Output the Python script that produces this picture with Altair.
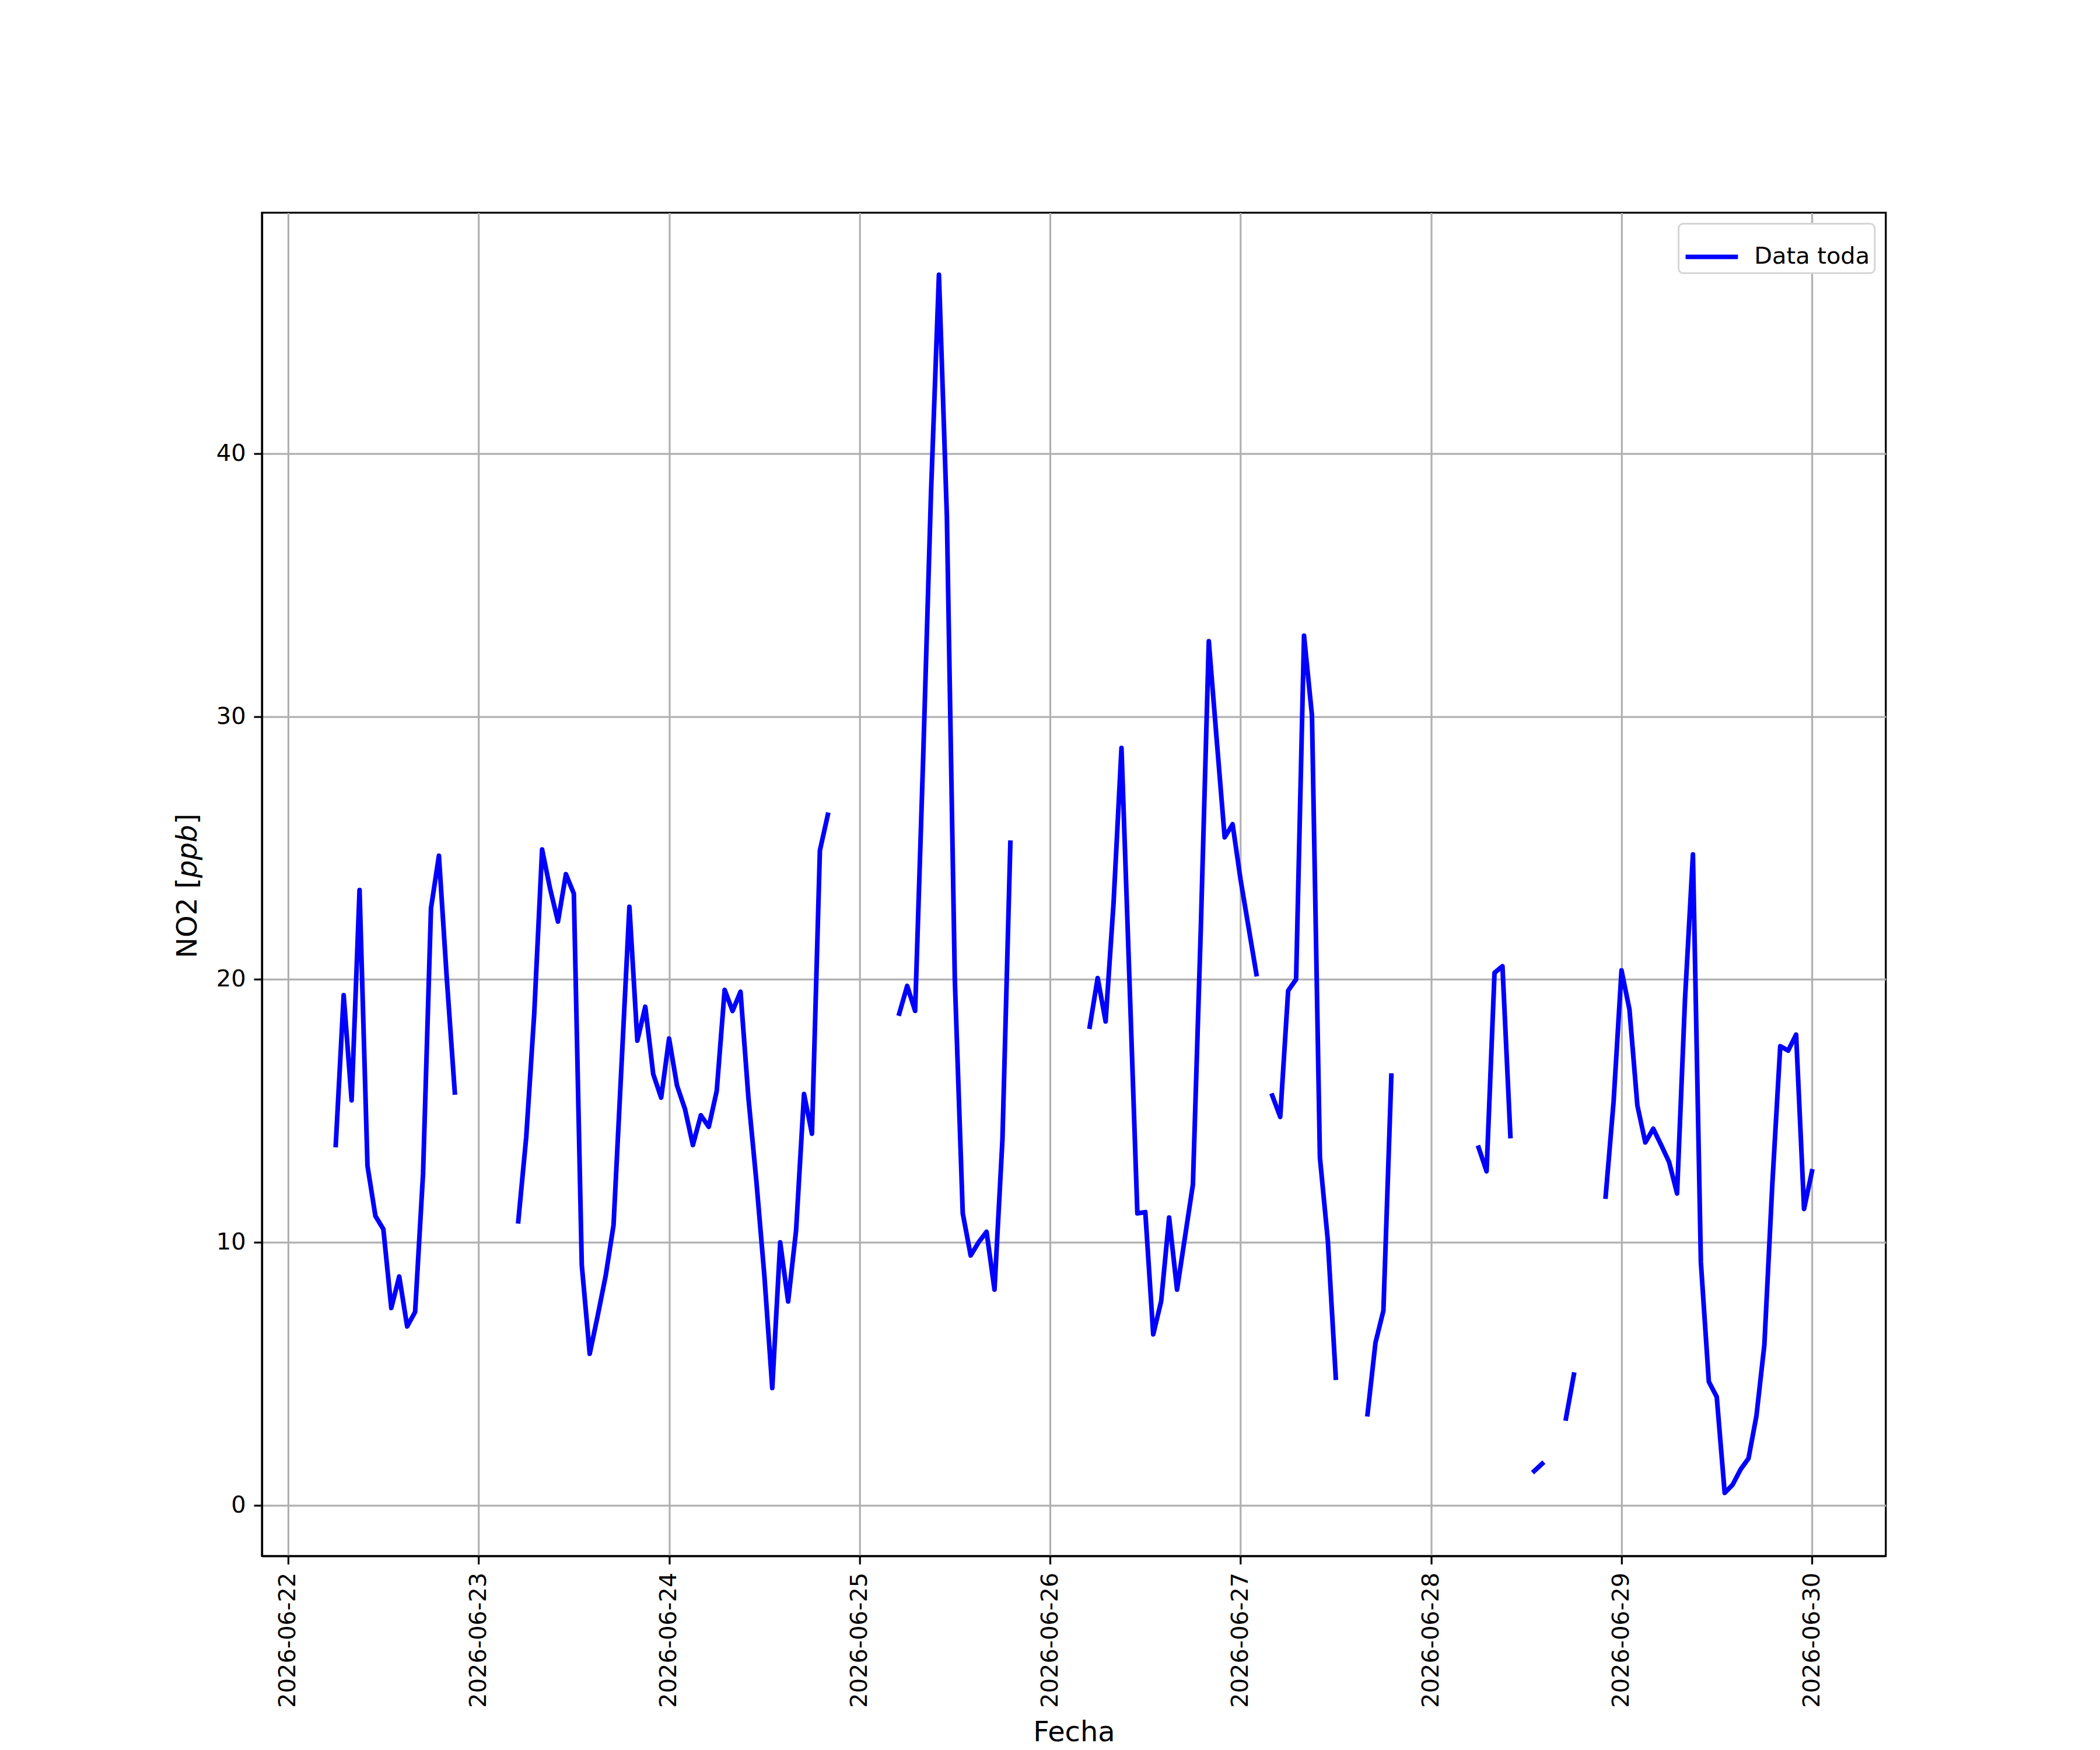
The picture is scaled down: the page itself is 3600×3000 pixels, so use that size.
import altair as alt
import pandas as pd

# Hourly NO2 readings [ppb]; None marks a missing hour
start_time = "2026-06-22 06:00"
d22 = [13.7, 19.4, 15.4, 23.4, 12.9, 11.0, 10.5, 7.5, 8.7, 6.8, 7.35, 12.6,
       22.7, 24.7, 20.0, 15.7, None, None]  # 06:00 - 23:00
d23 = [None, None, None, None, None, 10.8, 14.0, 18.65, 24.94, 23.46, 22.2, 24.0,
       23.26, 9.13, 5.76, 7.2, 8.71, 10.65, 16.7, 22.76, 17.67, 18.96, 16.4, 15.5]
d24 = [17.75, 15.96, 15.07, 13.7, 14.83, 14.39, 15.75, 19.6, 18.8, 19.53, 15.48, 12.32,
       8.75, 4.46, 10.0, 7.75, 10.45, 15.64, 14.13, 24.9, 26.26, None, None, None]
d25 = [None, None, None, None, None, 18.7, 19.75, 18.8, 28.3, 38.5, 46.8, 37.6,
       20.0, 11.1, 9.5, 10.0, 10.4, 8.2, 13.9, 25.2, None, None, None, None]
d26 = [None, None, None, None, None, 18.2, 20.05, 18.4, 22.9, 28.8, 20.0, 11.1,
       11.15, 6.5, 7.76, 10.94, 8.2, 10.2, 12.2, 22.0, 32.86, 29.1, 25.4, 25.9]
d27 = [23.8, 22.0, 20.2, None, 15.58, 14.77, 19.57, 20.0, 33.07, 30.04, 13.23, 10.06,
       4.85, None, None, None, 3.46, 6.18, 7.4, 16.34, None, None, None, None]
d28 = [None, None, None, None, None, None, 13.6, 12.7, 20.25, 20.5, 14.04, None,
       None, 1.3, 1.58, None, None, 3.3, 4.97, None, None, None, 11.74, 15.34]
d29 = [20.34, 18.86, 15.2, 13.8, 14.32, 13.7, 13.05, 11.86, 19.24, 24.75, 9.24, 4.7,
       4.12, 0.47, 0.78, 1.36, 1.78, 3.4, 6.1, 12.2, 17.46, 17.29, 17.9, 11.27]
d30 = [12.7]  # 00:00

series_name = "Data toda"
tick_days = [22, 23, 24, 25, 26, 27, 28, 29, 30]

values = d22 + d23 + d24 + d25 + d26 + d27 + d28 + d29 + d30
times = pd.date_range(start_time, periods=len(values), freq="h")

rows = []
seg = 0
prev_valid = False
for t, v in zip(times, values):
    if v is None:
        prev_valid = False
        continue
    if not prev_valid:
        seg += 1
    prev_valid = True
    rows.append({"time": t, "no2": v, "seg": seg, "serie": series_name})
df = pd.DataFrame(rows)

x_domain = [alt.DateTime(year=2026, month=6, date=21, hours=20, minutes=42),
            alt.DateTime(year=2026, month=6, date=30, hours=9, minutes=18)]
x_ticks = [alt.DateTime(year=2026, month=6, date=d) for d in tick_days]

line = alt.Chart(df).mark_line(strokeWidth=8, strokeCap="square", strokeJoin="round").encode(
    x=alt.X("time:T",
            scale=alt.Scale(domain=x_domain),
            axis=alt.Axis(values=x_ticks, format="%Y-%m-%d", labelAngle=270,
                          title="Fecha", labelOverlap=False, labelFlush=False,
                          labelLimit=0, titlePadding=80)),
    y=alt.Y("no2:Q",
            scale=alt.Scale(domain=[-1.93, 49.16], nice=False, zero=False),
            axis=alt.Axis(values=[0, 10, 20, 30, 40], title=None)),
    color=alt.Color("serie:N",
                    scale=alt.Scale(domain=[series_name], range=["#0000ff"]),
                    legend=alt.Legend(title=None, orient="top-right", labelLimit=0)),
    detail="seg:N",
)


def ylab_part(txt, ypos, style):
    return alt.Chart(pd.DataFrame({"t": [txt]})).mark_text(
        angle=270, align="left", baseline="alphabetic", font="DejaVu Sans",
        fontSize=48, fontStyle=style, color="black"
    ).encode(text="t:N", x=alt.value(-112), y=alt.value(ypos))


ylab1 = ylab_part("NO2 [", 1281, "normal")
ylab2 = ylab_part("ppb", 1143, "italic")
ylab3 = ylab_part("]", 1051, "normal")

chart = alt.layer(line, ylab1, ylab2, ylab3).properties(
    width=2790, height=2308,
    autosize=alt.AutoSizeParams(type="none"),
    padding={"left": 442, "top": 354, "right": 360, "bottom": 330},
    background="white",
).configure_axis(
    labelFont="DejaVu Sans", labelFontSize=40, labelColor="black",
    titleFont="DejaVu Sans", titleFontSize=48, titleFontWeight="normal", titleColor="black",
    tickColor="black", tickSize=14, tickWidth=3.2,
    domainColor="black", domainWidth=3.2,
    gridColor="#b0b0b0", gridWidth=3.2, gridOpacity=1,
    labelPadding=14,
).configure_view(
    stroke="black", strokeWidth=3.2,
).configure_legend(
    labelFont="DejaVu Sans", labelFontSize=40, labelColor="black",
    symbolType="stroke", symbolSize=8100, symbolStrokeWidth=8,
    padding=8, strokeColor="#d5d5d5", strokeWidth=3, cornerRadius=8,
    fillColor="white", offset=19, labelOffset=24,
)

chart.save("out.html", embed_options={"renderer": "svg", "actions": False})
